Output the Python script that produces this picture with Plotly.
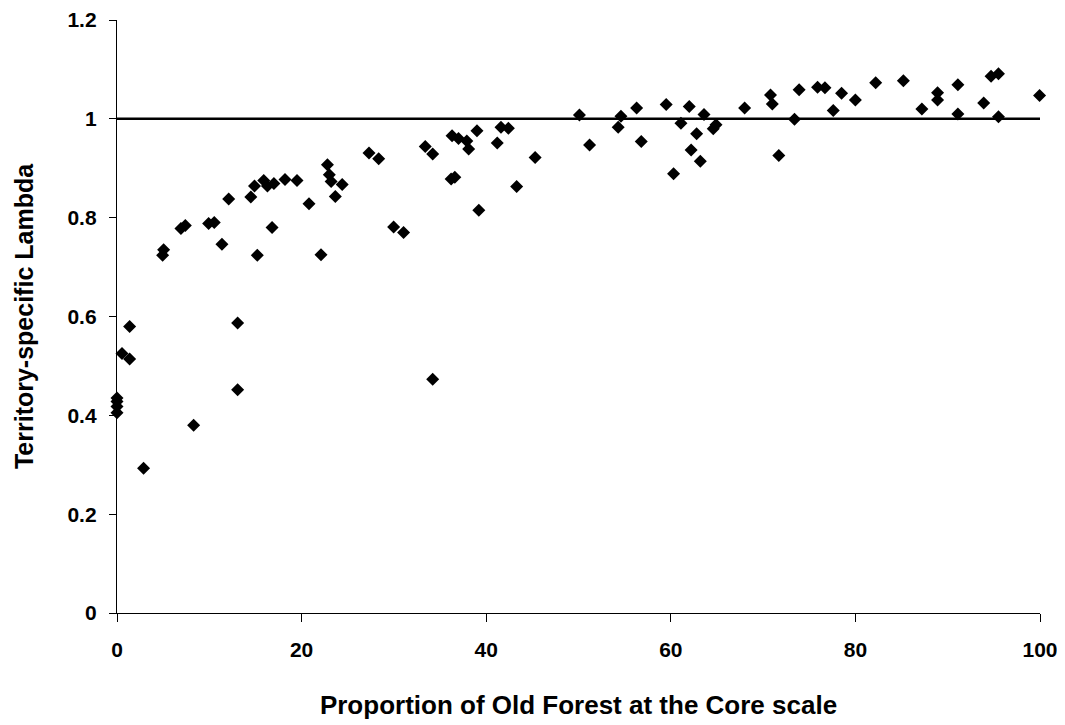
import plotly.graph_objects as go

old_forest = [0, 0, 0, 0, 0.54, 1.37, 1.37, 2.88, 4.94, 5.05, 6.93, 7.4, 8.3, 9.93, 10.54,
              11.37, 12.1, 13.07, 13.07, 14.5, 14.9, 15.2, 15.9, 16.3, 16.8, 17.0, 18.2,
              19.5, 20.8, 22.1, 22.8, 23.0, 23.2, 23.65, 24.4, 27.3, 28.35, 29.97, 31.05,
              33.4, 34.2, 34.2, 36.3, 36.2, 36.6, 37.0, 37.9, 38.1, 39.0, 39.2, 41.2, 41.6,
              42.4, 43.3, 45.3, 50.1, 51.2, 54.3, 54.6, 56.3, 56.8, 59.5, 60.3, 61.1, 62.0,
              62.2, 62.8, 63.2, 63.6, 64.6, 64.9, 68.0, 70.8, 71.0, 71.7, 73.4, 73.9, 75.9,
              76.7, 77.6, 78.5, 80.0, 82.2, 85.2, 87.2, 88.9, 88.9, 91.1, 91.1, 93.9, 94.7,
              95.5, 95.5, 99.95]
lam = [0.435, 0.428, 0.418, 0.405, 0.525, 0.514, 0.580, 0.293, 0.724, 0.735, 0.778, 0.784,
       0.380, 0.788, 0.790, 0.746, 0.838, 0.587, 0.452, 0.842, 0.864, 0.724, 0.875, 0.864,
       0.780, 0.869, 0.877, 0.875, 0.828, 0.725, 0.907, 0.887, 0.873, 0.843, 0.867, 0.931,
       0.919, 0.781, 0.770, 0.944, 0.929, 0.473, 0.966, 0.878, 0.882, 0.960, 0.955, 0.939,
       0.976, 0.815, 0.951, 0.983, 0.981, 0.863, 0.922, 1.008, 0.947, 0.983, 1.005, 1.022,
       0.954, 1.029, 0.889, 0.991, 1.025, 0.937, 0.970, 0.914, 1.009, 0.980, 0.988, 1.022,
       1.048, 1.030, 0.926, 0.999, 1.059, 1.064, 1.063, 1.017, 1.052, 1.038, 1.073, 1.077,
       1.020, 1.053, 1.038, 1.069, 1.010, 1.032, 1.086, 1.091, 1.004, 1.047]

ref_x = [0, 100]
ref_y = [1, 1]

x_ticks = [0, 20, 40, 60, 80, 100]
y_ticks = [0, 0.2, 0.4, 0.6, 0.8, 1, 1.2]
y_tick_text = ["0", "0.2", "0.4", "0.6", "0.8", "1", "1.2"]

fig = go.Figure()
fig.add_trace(go.Scatter(x=ref_x, y=ref_y, mode="lines",
                         line=dict(color="black", width=2.5), hoverinfo="skip",
                         showlegend=False))
fig.add_trace(go.Scatter(x=old_forest, y=lam, mode="markers",
                         marker=dict(symbol="diamond", size=10, color="black",
                                     line=dict(width=0)),
                         cliponaxis=False, showlegend=False))

font_family = "Liberation Sans, Arial, sans-serif"
fig.update_layout(
    width=1057, height=717,
    margin=dict(l=109, r=25, t=12, b=112),
    plot_bgcolor="white", paper_bgcolor="white",
    font=dict(family=font_family, color="black"),
    xaxis=dict(range=[0, 100], tickvals=x_ticks, ticks="outside", ticklen=8,
               tickwidth=1.3, tickcolor="black", showline=True, linecolor="black",
               linewidth=1.3, showgrid=False, zeroline=False, automargin=False,
               tickfont=dict(size=21, family=font_family, weight="bold"),
               ticklabelstandoff=10,
               title=dict(text="<b>Proportion of Old Forest at the Core scale</b>",
                          font=dict(size=26, family=font_family), standoff=35)),
    yaxis=dict(range=[0, 1.2], tickvals=y_ticks, ticktext=y_tick_text, ticks="outside",
               ticklen=7, tickwidth=1.3, tickcolor="black", showline=True,
               linecolor="black", linewidth=1.3, showgrid=False, zeroline=False,
               automargin=False,
               tickfont=dict(size=21, family=font_family, weight="bold"),
               ticklabelstandoff=8,
               title=dict(text="<b>Territory-specific Lambda</b>",
                          font=dict(size=25, family=font_family), standoff=26)),
)

fig.write_html("out.html")
